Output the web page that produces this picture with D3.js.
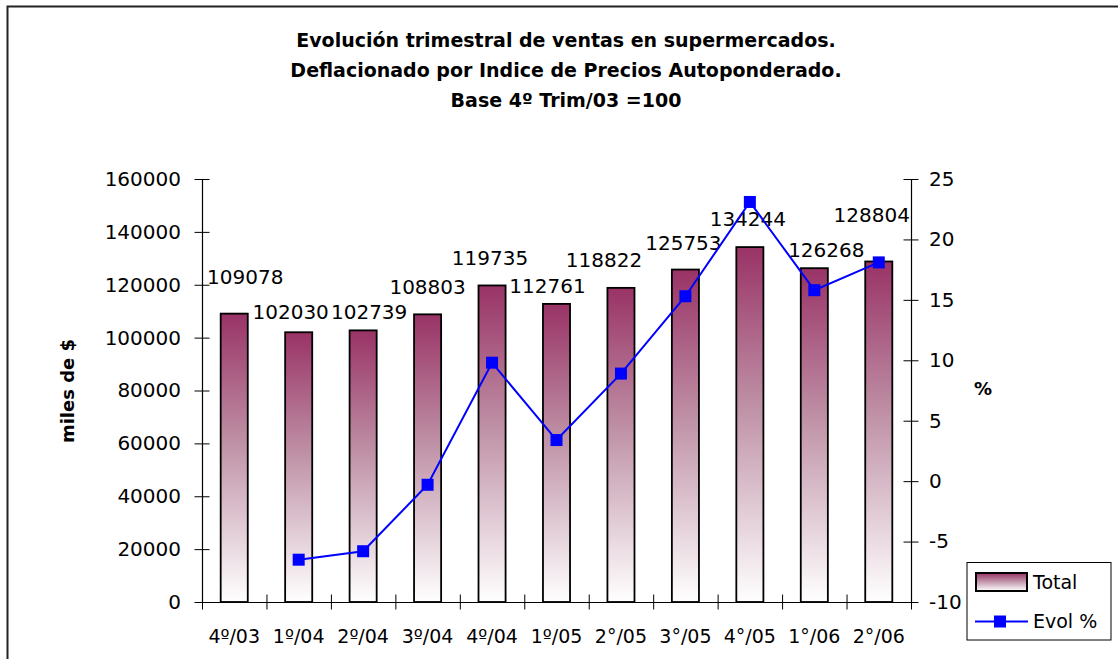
<!DOCTYPE html>
<html>
<head>
<meta charset="utf-8">
<script src="https://d3js.org/d3.v7.min.js"></script>
<style>
  body { margin: 0; background: #fff; }
  text { font-family: "DejaVu Sans", sans-serif; fill: #000; }
</style>
</head>
<body>
<div id="main"></div>
<script>
// **** Data ****
var quarters = ["4º/03", "1º/04", "2º/04", "3º/04", "4º/04", "1º/05", "2°/05", "3°/05", "4°/05", "1°/06", "2°/06"];
var totals = [109078, 102030, 102739, 108803, 119735, 112761, 118822, 125753, 134244, 126268, 128804];
var evol = [null, -6.5, -5.8, -0.3, 9.8, 3.4, 8.9, 15.3, 23.1, 15.8, 18.1];
var leftTicks = [0, 20000, 40000, 60000, 80000, 100000, 120000, 140000, 160000];
var rightTicks = [-10, -5, 0, 5, 10, 15, 20, 25];
var titleLines = ["Evolución trimestral de ventas en supermercados.",
                  "Deflacionado por Indice de Precios Autoponderado.",
                  "Base 4º Trim/03 =100"];

// the data labels were moved by hand in the original, so nudge them (dx, dy from bar top)
var labelNudge = [[11, -37], [-8, -20], [6, -18], [0, -27], [-2, -27], [-9, -18],
                  [-17, -28], [-2, -27], [-2, -28], [12, -18], [-7, -46]];

// **** Sizes ****
var W = 1118, H = 659;
var plotLeft = 202, plotRight = 911, plotTop = 179, plotBottom = 602;

var svg = d3.select("#main")
  .append("svg")
    .attr("width", W)
    .attr("height", H)
    .style("display", "block");

svg.append("rect").attr("width", W).attr("height", H).attr("fill", "#fff");

// frame of the chart object (runs off the right and bottom edge)
svg.append("path")
    .attr("d", "M7.5," + H + "V6.5H" + W)
    .attr("fill", "none")
    .attr("stroke", "#222")
    .attr("stroke-width", 2);

// **** Gradient for the bars ****
var defs = svg.append("defs");
var grad = defs.append("linearGradient")
    .attr("id", "barGrad")
    .attr("x1", 0).attr("y1", 0).attr("x2", 0).attr("y2", 1);
grad.append("stop").attr("offset", "0%").attr("stop-color", "#993366");
grad.append("stop").attr("offset", "45%").attr("stop-color", "#bf91a6");
grad.append("stop").attr("offset", "100%").attr("stop-color", "#ffffff");

// **** Scales ****
var x = d3.scaleBand()
    .domain(quarters)
    .range([plotLeft, plotRight])
    .paddingInner(0.58)
    .paddingOuter(0.29);

var xEdge = d3.scaleLinear()
    .domain([0, quarters.length])
    .range([plotLeft, plotRight]);

var y = d3.scaleLinear()
    .domain([0, 160000])
    .range([plotBottom, plotTop]);

var y2 = d3.scaleLinear()
    .domain([-10, 25])
    .range([plotBottom, plotTop]);

// **** Title ****
svg.append("g").selectAll("text")
    .data(titleLines)
    .enter()
    .append("text")
      .attr("x", 566)
      .attr("y", function(d, i) { return 40 + i * 30; })
      .attr("text-anchor", "middle")
      .attr("dominant-baseline", "central")
      .style("font-size", "19px")
      .style("font-weight", "bold")
      .text(function(d) { return d; });

// **** Bars ****
svg.append("g").selectAll("rect")
    .data(totals)
    .enter()
    .append("rect")
      .attr("x", function(d, i) { return x(quarters[i]); })
      .attr("y", function(d) { return y(d); })
      .attr("width", x.bandwidth())
      .attr("height", function(d) { return plotBottom - y(d); })
      .attr("fill", "url(#barGrad)")
      .attr("stroke", "#000")
      .attr("stroke-width", 1.8);

// **** Axes ****
function crossTicks(g, vertical) {
  g.select(".domain").attr("stroke", "#000").attr("stroke-width", 1.2);
  g.selectAll(".tick line")
    .attr("stroke", "#000")
    .attr(vertical ? "x1" : "y1", -7.5)
    .attr(vertical ? "x2" : "y2", 7.5);
}

var gLeft = svg.append("g")
    .attr("transform", "translate(" + plotLeft + ",0)")
    .call(d3.axisLeft(y).tickValues(leftTicks).tickSizeOuter(0).tickPadding(15)
      .tickFormat(function(d) { return String(d); }));
gLeft.call(crossTicks, true);

var gRight = svg.append("g")
    .attr("transform", "translate(" + plotRight + ",0)")
    .call(d3.axisRight(y2).tickValues(rightTicks).tickSizeOuter(0).tickPadding(12)
      .tickFormat(function(d) { return String(d); }));
gRight.call(crossTicks, true);

var gBottom = svg.append("g")
    .attr("transform", "translate(0," + plotBottom + ")")
    .call(d3.axisBottom(xEdge).ticks(quarters.length).tickSizeOuter(0).tickFormat(""));
gBottom.call(crossTicks, false);

svg.selectAll(".tick text")
    .style("font-size", "20px")
    .style("font-family", "'DejaVu Sans', sans-serif")
    .attr("fill", "#000");

// category labels
svg.append("g").selectAll("text")
    .data(quarters)
    .enter()
    .append("text")
      .attr("x", function(d) { return x(d) + x.bandwidth() / 2; })
      .attr("y", 636)
      .attr("text-anchor", "middle")
      .attr("dominant-baseline", "central")
      .style("font-size", "19px")
      .text(function(d) { return d; });

// axis titles
svg.append("text")
    .attr("transform", "translate(67,391) rotate(-90)")
    .attr("text-anchor", "middle")
    .attr("dominant-baseline", "central")
    .style("font-size", "18px")
    .style("font-weight", "bold")
    .text("miles de $");

svg.append("text")
    .attr("x", 983)
    .attr("y", 388)
    .attr("text-anchor", "middle")
    .attr("dominant-baseline", "central")
    .style("font-size", "18px")
    .style("font-weight", "bold")
    .text("%");

// **** Data labels ****
svg.append("g").selectAll("text")
    .data(totals)
    .enter()
    .append("text")
      .attr("x", function(d, i) { return x(quarters[i]) + x.bandwidth() / 2 + labelNudge[i][0]; })
      .attr("y", function(d, i) { return y(d) + labelNudge[i][1]; })
      .attr("text-anchor", "middle")
      .attr("dominant-baseline", "central")
      .style("font-size", "20px")
      .text(function(d) { return d; });

// **** Evol % line ****
var pts = evol.map(function(v, i) { return {q: quarters[i], v: v}; })
    .filter(function(d) { return d.v !== null; });

var line = d3.line()
    .x(function(d) { return x(d.q) + x.bandwidth() / 2; })
    .y(function(d) { return y2(d.v); });

svg.append("path")
    .datum(pts)
    .attr("d", line)
    .attr("fill", "none")
    .attr("stroke", "#0000ff")
    .attr("stroke-width", 2);

svg.append("g").selectAll("rect")
    .data(pts)
    .enter()
    .append("rect")
      .attr("x", function(d) { return x(d.q) + x.bandwidth() / 2 - 6; })
      .attr("y", function(d) { return y2(d.v) - 6; })
      .attr("width", 12)
      .attr("height", 12)
      .attr("fill", "#0000ff");

// **** Legend ****
var legend = svg.append("g");
legend.append("rect")
    .attr("x", 967).attr("y", 562.5)
    .attr("width", 144).attr("height", 77.5)
    .attr("fill", "#fff")
    .attr("stroke", "#000")
    .attr("stroke-width", 1);

legend.append("rect")
    .attr("x", 976).attr("y", 573)
    .attr("width", 51).attr("height", 18)
    .attr("fill", "url(#barGrad)")
    .attr("stroke", "#000")
    .attr("stroke-width", 2);

legend.append("text")
    .attr("x", 1033).attr("y", 582)
    .attr("dominant-baseline", "central")
    .style("font-size", "19px")
    .text("Total");

legend.append("line")
    .attr("x1", 975).attr("x2", 1028)
    .attr("y1", 621.5).attr("y2", 621.5)
    .attr("stroke", "#0000ff")
    .attr("stroke-width", 2);

legend.append("rect")
    .attr("x", 994).attr("y", 615.5)
    .attr("width", 12).attr("height", 12)
    .attr("fill", "#0000ff");

legend.append("text")
    .attr("x", 1033).attr("y", 621)
    .attr("dominant-baseline", "central")
    .style("font-size", "19px")
    .text("Evol %");
</script>
</body>
</html>
